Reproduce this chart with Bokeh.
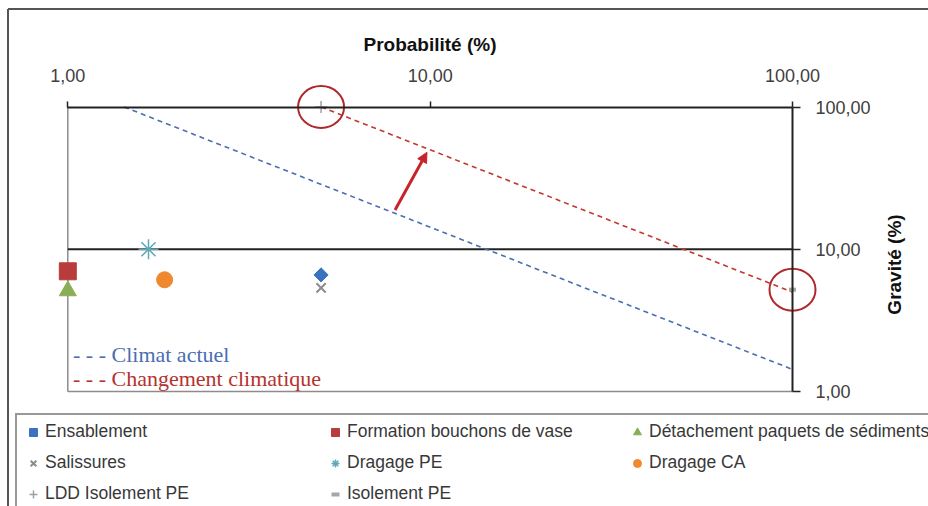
import math
from bokeh.plotting import figure
from bokeh.models import (Range1d, FixedTicker, Label, Arrow, NormalHead,
                          Legend, LegendItem, BoxAnnotation)
from bokeh.embed import file_html
from bokeh.resources import INLINE

# ---------------- data ----------------
categories = ["Ensablement", "Formation bouchons de vase", "Détachement paquets de sédiments",
              "Salissures", "Dragage PE", "Dragage CA", "LDD Isolement PE", "Isolement PE"]
probabilite = [5.0, 1.0, 1.0, 5.0, 1.67, 1.85, 5.0, 100.0]
gravite = [6.6, 7.0, 5.1, 5.35, 10.0, 6.1, 100.0, 5.2]

x_ticks = [1, 10, 100]
x_tick_labels = ["1,00", "10,00", "100,00"]
y_ticks = [1, 10, 100]
y_tick_labels = ["1,00", "10,00", "100,00"]

climat_actuel_prob = [1.43, 100.0]
climat_actuel_grav = [100.0, 1.43]
changement_prob = [5.0, 100.0]
changement_grav = [100.0, 5.0]

arrow_prob = [8.0, 9.8]
arrow_grav = [18.9, 48.0]

highlighted = [6, 7]   # series circled in red

# ---------------- styles ----------------
markers = ["square", "square", "triangle", "x", "asterisk", "circle", "cross", "dash"]
angles = [math.pi / 4, 0, 0, 0, 0, 0, 0, 0]
fills = ["#3b72be", "#b83c3c", "#8aae55", "#8c8c8c", "#5fa8b8", "#f0882e", "#a0a0a0", "#a6a6a6"]
sizes = [10, 17, 17, 13, 20, 16, 12, 7]
lwidths = [1, 1, 1, 2, 1.5, 1, 1.5, 4]

W, H = 928, 506
X0_PX, X_DEC = 67.3, 362.35   # page pixel of probabilite = 1, pixels per decade
Y0_PX, Y_DEC = 391.0, 142.25  # page pixel of gravite = 1, pixels per decade


def px2x(px):
    return 10 ** ((px - X0_PX) / X_DEC)


def px2y(py):
    return 10 ** ((Y0_PX - py) / Y_DEC)


FONT = "Liberation Sans"

p = figure(width=W, height=H, x_axis_type="log", y_axis_type="log",
           x_range=Range1d(px2x(0), px2x(W)),
           y_range=Range1d(px2y(H), px2y(0)),
           x_axis_location="above", y_axis_location="right",
           output_backend="svg", toolbar_location=None, title=None,
           background_fill_color="white", border_fill_color="white",
           outline_line_color=None)
p.min_border = 0
p.min_border_left = p.min_border_right = p.min_border_top = p.min_border_bottom = 0
p.xgrid.visible = False
p.ygrid.visible = False

# chart border (top and left; the rest lies outside the picture)
p.segment(x0=[px2x(7.5), px2x(7.5)], y0=[px2y(8.5), px2y(8.5)],
          x1=[px2x(W), px2x(7.5)], y1=[px2y(8.5), px2y(H)],
          line_color="#555555", line_width=2)

# plot-area border (left, bottom) and the 10 % gravity grid line
lo_x, hi_x = x_ticks[0], x_ticks[-1]
lo_y, mid_y, hi_y = y_ticks[0], y_ticks[1], y_ticks[-1]
p.segment(x0=[lo_x, lo_x], y0=[lo_y, lo_y], x1=[lo_x, hi_x], y1=[hi_y, lo_y],
          line_color="#8c8c8c", line_width=1.5)
p.segment(x0=[lo_x], y0=[mid_y], x1=[hi_x], y1=[mid_y], line_color="#222222", line_width=2)

# top axis : Probabilité
xa = p.xaxis[0]
xa.fixed_location = hi_y
xa.bounds = (lo_x, hi_x)
xa.ticker = FixedTicker(ticks=x_ticks, minor_ticks=[])
xa.major_label_overrides = dict(zip(x_ticks, x_tick_labels))
xa.axis_label = "Probabilité (%)"
xa.axis_label_text_font = FONT
xa.axis_label_text_font_style = "bold"
xa.axis_label_text_font_size = "19px"
xa.axis_label_text_color = "#111111"
xa.axis_label_standoff = 12
xa.major_label_text_font = FONT
xa.major_label_text_font_size = "18px"
xa.major_label_text_color = "#404040"
xa.major_label_standoff = 19
xa.major_tick_out = 6
xa.major_tick_in = 0
xa.axis_line_color = "#222222"
xa.axis_line_width = 2
xa.major_tick_line_color = "#222222"
xa.major_tick_line_width = 1.5

# right axis : Gravité
ya = p.yaxis[0]
ya.fixed_location = hi_x
ya.bounds = (lo_y, hi_y)
ya.ticker = FixedTicker(ticks=y_ticks, minor_ticks=[])
ya.major_label_overrides = dict(zip(y_ticks, y_tick_labels))
ya.major_label_text_font = FONT
ya.major_label_text_font_size = "18px"
ya.major_label_text_color = "#404040"
ya.major_label_standoff = 15
ya.major_tick_out = 8
ya.major_tick_in = 0
ya.axis_line_color = "#222222"
ya.axis_line_width = 2
ya.major_tick_line_color = "#222222"
ya.major_tick_line_width = 1.5

# right-axis title, reading bottom to top
p.add_layout(Label(x=px2x(894), y=px2y(264), text="Gravité (%)", angle=math.pi / 2,
                   text_align="center", text_baseline="middle",
                   text_font=FONT, text_font_style="bold", text_font_size="19px",
                   text_color="#111111"))

# iso-risk lines
p.line(climat_actuel_prob, climat_actuel_grav, line_color="#4a6eb0", line_width=1.6, line_dash="5 4")
p.line(changement_prob, changement_grav, line_color="#c0392b", line_width=1.6, line_dash="5 4")

# series
items = []
for i, cat in enumerate(categories):
    r = p.scatter([probabilite[i]], [gravite[i]], marker=markers[i], size=sizes[i], angle=angles[i],
                  fill_color=fills[i], line_color=fills[i], line_width=lwidths[i])
    items.append(LegendItem(label=cat, renderers=[r]))

# red circles around the highlighted series
p.ellipse([probabilite[i] for i in highlighted], [gravite[i] for i in highlighted],
          width=46, height=42, width_units="screen", height_units="screen",
          fill_color=None, line_color="#b0282b", line_width=2)

# arrow
p.add_layout(Arrow(end=NormalHead(size=10, fill_color="#c8232b", line_color="#c8232b"),
                   x_start=arrow_prob[0], y_start=arrow_grav[0],
                   x_end=arrow_prob[1], y_end=arrow_grav[1],
                   line_color="#c8232b", line_width=3))

# text annotations
p.add_layout(Label(x=px2x(72.5), y=px2y(354), text="- - - Climat actuel",
                   text_font="Liberation Serif", text_font_size="22px",
                   text_color="#4a6eb0", text_baseline="alphabetic"))
p.add_layout(Label(x=px2x(72.5), y=px2y(378), text="- - - Changement climatique",
                   text_font="Liberation Serif", text_font_size="22px",
                   text_color="#b5332e", text_baseline="alphabetic"))

# legend
legend = Legend(items=items, ncols=3, orientation="horizontal", location=(15, -6),
                glyph_width=20, glyph_height=20, label_height=20, label_width=270,
                label_standoff=2, spacing=10, padding=6, margin=0,
                label_text_font=FONT, label_text_font_size="17.5px", label_text_color="#383838",
                border_line_color="#333333", border_line_width=2,
                background_fill_color="white", background_fill_alpha=1)
p.add_layout(legend, "center")

# red underlines under the two Isolement entries (overlay level, above the legend)
for left_px, right_px in [(42, 187), (346, 454)]:
    p.add_layout(BoxAnnotation(left=px2x(left_px), right=px2x(right_px),
                               top=px2y(498.5), bottom=px2y(500.8),
                               fill_color="#c0392b", fill_alpha=1, line_color=None,
                               level="overlay"))

open("out.html", "w").write(file_html(p, INLINE))
